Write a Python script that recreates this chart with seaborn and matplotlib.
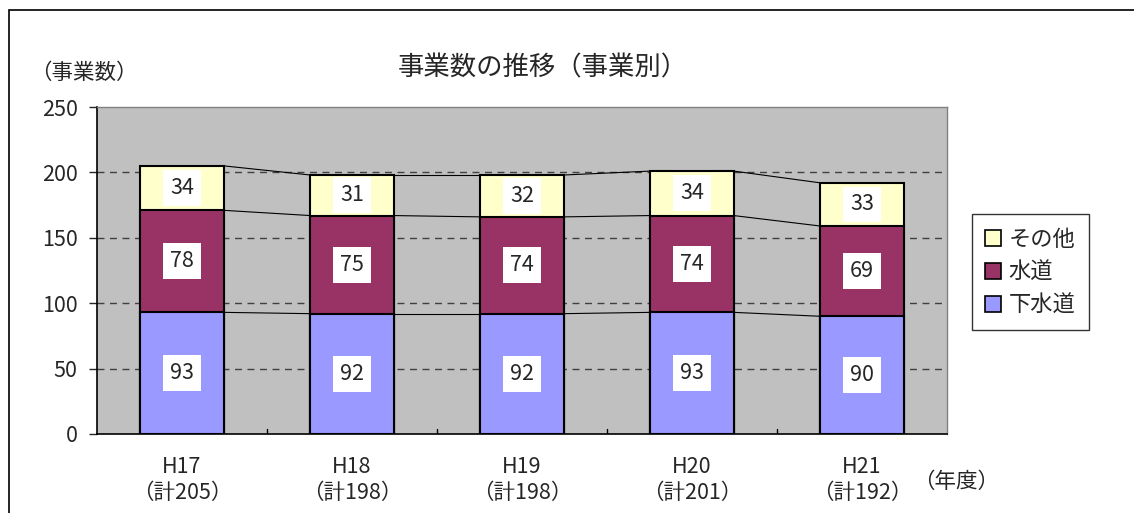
import matplotlib
matplotlib.use("Agg")
import matplotlib.pyplot as plt
import numpy as np
import pandas as pd
import seaborn as sns
from matplotlib.patches import Rectangle

years = ["H17", "H18", "H19", "H20", "H21"]
gesuido = [93, 92, 92, 93, 90]
suido = [78, 75, 74, 74, 69]
sonota = [34, 31, 32, 34, 33]
series_names = ["下水道", "水道", "その他"]
colors = ["#9999FF", "#993366", "#FFFFCC"]

sns.set_style("white")
plt.rcParams["font.family"] = ["Noto Sans CJK JP", "DejaVu Sans"]

vals = np.array([gesuido, suido, sonota])
cum = np.cumsum(vals, axis=0)
totals = cum[-1]
xlabels = [f"{y}\n（計{t}）" for y, t in zip(years, totals)]

df = pd.DataFrame({"year": xlabels})
for name, c in zip(series_names, cum):
    df[name] = c

fig = plt.figure(figsize=(11.34, 5.13), dpi=100)
ax = fig.add_axes([97 / 1134, 1 - 434 / 513, 850 / 1134, 327 / 513])
ax.set_facecolor("#C0C0C0")

width = 0.49
# draw cumulative heights from the top down so lower series overlap
for name, col in reversed(list(zip(series_names, colors))):
    sns.barplot(data=df, x="year", y=name, color=col, ax=ax, width=width,
                edgecolor="black", linewidth=1.5, saturation=1, zorder=3)

# series lines between bars
for c in cum:
    for i in range(len(years) - 1):
        ax.plot([i + width / 2, i + 1 - width / 2], [c[i], c[i + 1]],
                color="black", lw=0.8, zorder=2)

# value labels
bottoms = np.vstack([np.zeros(len(years)), cum[:-1]])
for s in range(3):
    for i in range(len(years)):
        ax.text(i, bottoms[s][i] + vals[s][i] / 2, str(vals[s][i]),
                ha="center", va="center", fontsize=15.5, zorder=5,
                bbox=dict(facecolor="white", edgecolor="none", pad=5))

ax.set_ylim(0, 250)
ax.set_xlim(-0.5, 4.5)
ax.set_yticks(range(0, 251, 50))
for y in range(50, 250, 50):
    ax.axhline(y, color="#404040", lw=1, ls=(0, (5, 4)), zorder=1)
ax.tick_params(axis="y", labelsize=15.5, length=6, width=1, direction="out", left=True, pad=8)
ax.tick_params(axis="x", labelsize=15.5, length=0, pad=16)
ax.set_xlabel("")
ax.set_ylabel("")
for x in np.arange(0.5, 4.5, 1):
    ax.plot([x, x], [0, 4], color="black", lw=1, zorder=4)
for side in ["left", "bottom"]:
    ax.spines[side].set_color("black")
    ax.spines[side].set_linewidth(1.2)
for side in ["top", "right"]:
    ax.spines[side].set_color("#808080")
    ax.spines[side].set_linewidth(1)

fig.text(543 / 1134, 1 - 68 / 513, "事業数の推移（事業別）", ha="center", va="center", fontsize=19)
fig.text(30 / 1134, 1 - 73 / 513, "（事業数）", ha="left", va="center", fontsize=15.5)
fig.text(913 / 1134, 1 - 482 / 513, "（年度）", ha="left", va="center", fontsize=15.5)

handles = [Rectangle((0, 0), 1, 1, facecolor=c, edgecolor="black", lw=1.2)
           for c in reversed(colors)]
leg = fig.legend(handles, list(reversed(series_names)), loc="center left",
                 bbox_to_anchor=(972 / 1134, 1 - 272 / 513), fontsize=16,
                 frameon=True, fancybox=False, edgecolor="black", borderaxespad=0,
                 handlelength=0.7, handleheight=0.7, handletextpad=0.35,
                 labelspacing=0.45, borderpad=0.6)
leg.get_frame().set_linewidth(1)

fig.patches.append(Rectangle((9 / 1134, -0.1), 1.2, 1.1 - 10 / 513, transform=fig.transFigure,
                             fill=False, edgecolor="black", lw=1.2))

fig.savefig("out.png", dpi=100)
